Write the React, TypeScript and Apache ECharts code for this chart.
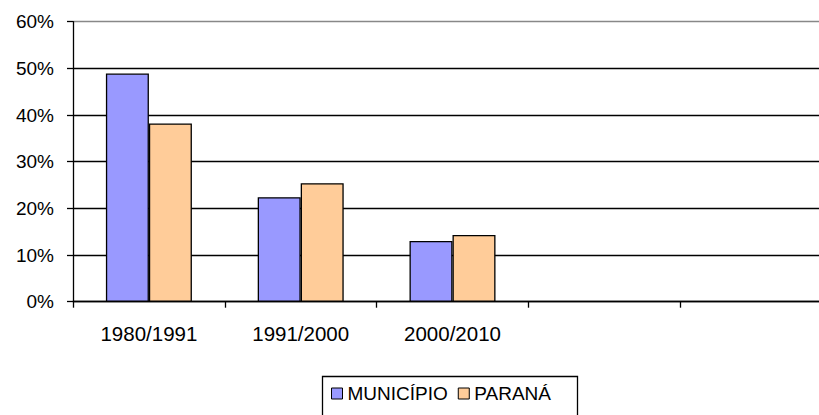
import React, { useEffect, useRef } from "react";
import * as echarts from "echarts";

const categories = ["1980/1991", "1991/2000", "2000/2010", "", ""];
const municipio = [48.9, 22.4, 13.0];
const parana = [38.2, 25.4, 14.3];
const seriesNames = ["MUNICÍPIO", "PARANÁ"];

const FONT = "'Liberation Sans', Arial, sans-serif";

export default function App() {
  const ref = useRef<HTMLDivElement>(null);
  useEffect(() => {
    if (!ref.current) return;
    const chart = echarts.init(ref.current, undefined, { renderer: "svg" });
    chart.setOption({
      animation: false,
      backgroundColor: "#ffffff",
      textStyle: { fontFamily: FONT },
      grid: { left: 73, top: 21.7, right: 0, bottom: 113.3, containLabel: false },
      graphic: [
        {
          type: "rect",
          shape: { x: 322.5, y: 376.5, width: 255, height: 60 },
          style: { fill: "none", stroke: "#000", lineWidth: 1.3 },
          silent: true,
          z: 10,
        },
      ],
      legend: {
        data: seriesNames,
        left: 323,
        top: 376,
        orient: "horizontal",
        itemWidth: 11,
        itemHeight: 11,
        itemGap: 10,
        padding: [8, 8, 8, 8],
        icon: "rect",
        textStyle: { fontSize: 19, color: "#000", fontFamily: FONT },
        itemStyle: { borderColor: "#000", borderWidth: 1 },
      },
      xAxis: {
        type: "category",
        data: categories,
        boundaryGap: true,
        axisLine: { show: true, lineStyle: { color: "#000", width: 1.3 } },
        axisTick: { show: true, length: 6, alignWithLabel: false, lineStyle: { color: "#000", width: 1.3 } },
        axisLabel: { fontSize: 20.5, color: "#000", margin: 21, fontFamily: FONT, interval: 0 },
        splitLine: { show: false },
      },
      yAxis: {
        type: "value",
        min: 0,
        max: 60,
        interval: 10,
        axisLine: { show: true, lineStyle: { color: "#000", width: 1.3 } },
        axisTick: { show: true, length: 6, lineStyle: { color: "#000", width: 1.3 } },
        axisLabel: { fontSize: 19, color: "#000", margin: 19, formatter: "{value}%", fontFamily: FONT },
        splitLine: {
          show: true,
          lineStyle: { color: ["#000", "#000", "#000", "#000", "#000", "#000", "#888"], width: 1.3 },
        },
      },
      series: [
        {
          name: seriesNames[0],
          type: "bar",
          data: municipio,
          barWidth: 43,
          barGap: "0%",
          itemStyle: { color: "#9999FF", borderColor: "#000", borderWidth: 1.3 },
        },
        {
          name: seriesNames[1],
          type: "bar",
          data: parana,
          barWidth: 43,
          barGap: "0%",
          itemStyle: { color: "#FFCC99", borderColor: "#000", borderWidth: 1.3 },
        },
      ],
    });
    return () => chart.dispose();
  }, []);
  return (
    <div
      ref={ref}
      style={{ position: "fixed", left: 0, top: 0, width: 832, height: 415 }}
    />
  );
}
